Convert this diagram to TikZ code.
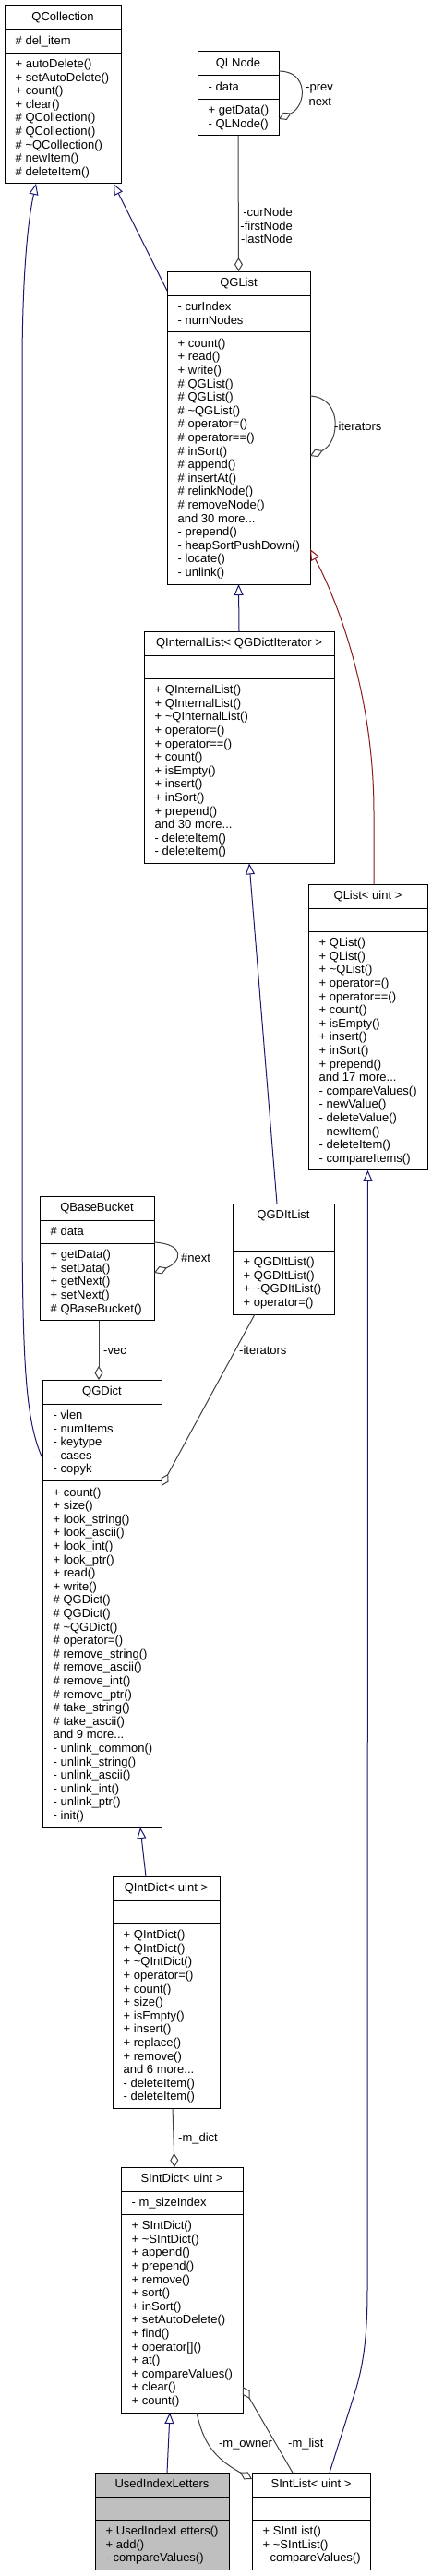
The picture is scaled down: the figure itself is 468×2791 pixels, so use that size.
\documentclass[tikz,border=0pt]{standalone}
\usepackage{fontspec}
\setmainfont{Liberation Sans}
\usetikzlibrary{arrows.meta,calc}
\definecolor{inhblue}{HTML}{191970}
\definecolor{privred}{HTML}{8B1A1A}
\definecolor{usegrey}{HTML}{404040}
\definecolor{curgrey}{HTML}{BFBFBF}
\newcommand\tld{\textasciitilde}
\newcommand\andmore[1]{and #1 more...}
% class box: name, x, top, width, attr rows, method rows, title, attrs, methods
\newcommand\umlclass[9]{%
  \node[cls,minimum width=#4,minimum height={47+14.6*(#5+#6)},anchor=north west] (#1) at (#2,#3) {};
  \draw[line width=1pt] (#1.north west) ++(0,26) -- ++(#4,0);
  \draw[line width=1pt] (#1.north west) ++(0,{36.5+14.6*#5}) -- ++(#4,0);
  \node[txt,anchor=base] (#1t) at ({#2+#4/2},{#3+16.5}) {#7};
  \foreach \entry [count=\idx from 0] in {#8}
    \node[mem] (#1a\idx) at (#2,{#3+42.5+14.6*\idx}) {\entry};
  \foreach \entry [count=\idx from 0] in {#9}
    \node[mem] (#1m\idx) at (#2,{#3+53+14.6*(#5+\idx)}) {\entry};
}

\begin{document}
\begin{tikzpicture}[x=1pt,y=-1pt,
  clsfill/.style={fill=white},
  cls/.style={draw=black,line width=1pt,inner sep=0pt,outer sep=0pt,clsfill},
  txt/.style={font=\fontsize{13}{14.6}\selectfont,inner sep=0pt},
  mem/.style={txt,anchor=base west,xshift=11.5pt},
  lbl/.style={txt,anchor=base west},
  inh/.style={inhblue,line width=1pt,-{Triangle[open,length=12pt,width=10pt]}},
  priv/.style={inh,privred},
  agg/.style={usegrey,line width=1pt,-{Diamond[open,length=15pt,width=9pt]}}]
\path[use as bounding box,fill=white] (0,0) rectangle (468,2791);

\umlclass{qcoll}{5}{6}{126}{1}{9}{QCollection}{\# del\_item}{+ autoDelete(),+ setAutoDelete(),+ count(),+ clear(),\# QCollection(),\# QCollection(),\# \tld QCollection(),\# newItem(),\# deleteItem()}
\umlclass{qlnode}{214}{56}{88}{1}{2}{QLNode}{- data}{+ getData(),- QLNode()}
\umlclass{qglist}{181}{294}{155}{2}{18}{QGList}{- curIndex,- numNodes}{+ count(),+ read(),+ write(),\# QGList(),\# QGList(),\# \tld QGList(),\# operator=(),\# operator==(),\# inSort(),\# append(),\# insertAt(),\# relinkNode(),\# removeNode(),\andmore{30},- prepend(),- heapSortPushDown(),- locate(),- unlink()}
\umlclass{qintl}{156}{684}{206}{1}{13}{QInternalList< QGDictIterator >}{}{+ QInternalList(),+ QInternalList(),+ \tld QInternalList(),+ operator=(),+ operator==(),+ count(),+ isEmpty(),+ insert(),+ inSort(),+ prepend(),\andmore{30},- deleteItem(),- deleteItem()}
\umlclass{qlist}{334}{958}{129}{1}{17}{QList< uint >}{}{+ QList(),+ QList(),+ \tld QList(),+ operator=(),+ operator==(),+ count(),+ isEmpty(),+ insert(),+ inSort(),+ prepend(),\andmore{17},- compareValues(),- newValue(),- deleteValue(),- newItem(),- deleteItem(),- compareItems()}
\umlclass{qbb}{43}{1296}{124}{1}{5}{QBaseBucket}{\# data}{+ getData(),+ setData(),+ getNext(),+ setNext(),\# QBaseBucket()}
\umlclass{qgditl}{252}{1304}{110}{1}{4}{QGDItList}{}{+ QGDItList(),+ QGDItList(),+ \tld QGDItList(),+ operator=()}
\umlclass{qgdict}{46}{1495}{129}{5}{25}{QGDict}{- vlen,- numItems,- keytype,- cases,- copyk}{+ count(),+ size(),+ look\_string(),+ look\_ascii(),+ look\_int(),+ look\_ptr(),+ read(),+ write(),\# QGDict(),\# QGDict(),\# \tld QGDict(),\# operator=(),\# remove\_string(),\# remove\_ascii(),\# remove\_int(),\# remove\_ptr(),\# take\_string(),\# take\_ascii(),\andmore{9},- unlink\_common(),- unlink\_string(),- unlink\_ascii(),- unlink\_int(),- unlink\_ptr(),- init()}
\umlclass{qintd}{122}{2033}{116}{1}{13}{QIntDict< uint >}{}{+ QIntDict(),+ QIntDict(),+ \tld QIntDict(),+ operator=(),+ count(),+ size(),+ isEmpty(),+ insert(),+ replace(),+ remove(),\andmore{6},- deleteItem(),- deleteItem()}
\umlclass{sintd}{131}{2348}{132}{1}{14}{SIntDict< uint >}{- m\_sizeIndex}{+ SIntDict(),+ \tld SIntDict(),+ append(),+ prepend(),+ remove(),+ sort(),+ inSort(),+ setAutoDelete(),+ find(),+ operator[](),+ at(),+ compareValues(),+ clear(),+ count()}
\begin{scope}[clsfill/.style={fill=curgrey}]
\umlclass{used}{103}{2679}{145}{1}{3}{UsedIndexLetters}{}{+ UsedIndexLetters(),+ add(),- compareValues()}
\end{scope}
\umlclass{sintl}{273}{2679}{128}{1}{3}{SIntList< uint >}{}{+ SIntList(),+ \tld SIntList(),- compareValues()}

\draw[inh] ($(qglist.north west)+(0,21)$) -- ($(qcoll.south west)+(118,0)$);
\draw[inh] ($(qgdict.north west)+(0,85)$) .. controls (28,1540) and (24,1480) .. (24,1300) -- (24,400) .. controls (24,300) and (30,240) .. ($(qcoll.south west)+(34,0)$);
\draw[inh] (qintl.north) -- (qglist.south);
\draw[priv] ($(qlist.north west)+(71,0)$) -- ++(0,-78) .. controls +(0,-120) and (370,660) .. ($(qglist.north east)+(0,301)$);
\draw[inh] ($(qgditl.north west)+(48,0)$) -- ($(qintl.south west)+(114,0)$);
\draw[inh] ($(qintd.north west)+(36,0)$) -- ($(qgdict.south west)+(106,0)$);
\draw[inh] ($(used.north west)+(78,0)$) -- ($(sintd.south west)+(53,0)$);
\draw[inh] ($(sintl.north west)+(84,0)$) -- ++(25,-79) .. controls +(10,-30) and (398,2540) .. (398,2480) -- (qlist.south);

\draw[agg] (qlnode.south) -- (qglist.north);
\foreach \lab [count=\i from 0] in {-curNode,-firstNode,-lastNode}
  \node[lbl,anchor=base east] (nodelbl\i) at (317,{234.7+14.6*\i}) {\lab};
\draw[agg] ($(qlnode.north east)+(0,21)$) .. controls +(33,0) and +(30,-14) .. ($(qlnode.north east)+(0,73)$);
\node[lbl] (prevlbl) at (331,99) {-prev};
\node[lbl] (nextlbl) at (330,114.6) {-next};
\draw[agg] ($(qglist.north east)+(0,135)$) .. controls +(36,2) and +(32,-14) .. ($(qglist.north east)+(0,200)$);
\node[lbl] (itlbl) at (362,466.7) {-iterators};
\draw[agg] ($(qbb.north east)+(0,50)$) .. controls +(34,2) and +(30,-12) .. ($(qbb.north east)+(0,83)$);
\node[lbl] (bnextlbl) at (196,1367.7) {\#next};
\draw[agg] ($(qbb.south west)+(64,0)$) -- ($(qgdict.north west)+(61,0)$);
\node[lbl] (veclbl) at (112,1467.7) {-vec};
\draw[agg] ($(qgditl.south west)+(24,0)$) -- ($(qgdict.north east)+(0,115)$);
\node[lbl] (dictitlbl) at (259,1467.7) {-iterators};
\draw[agg] ($(qintd.south west)+(65,0)$) -- ($(sintd.north west)+(58,0)$);
\node[lbl] (mdictlbl) at (193,2320.7) {-m\_dict};
\draw[agg] ($(sintd.south west)+(82,0)$) .. controls +(7,31) and +(-43,-24) .. ($(sintl.north west)+(0,7)$);
\node[lbl,anchor=base] (mownlbl) at (266,2651.7) {-m\_owner};
\draw[agg] ($(sintl.north west)+(44,0)$) -- ($(sintd.north east)+(0,238)$);
\node[lbl] (mlistlbl) at (312,2651.7) {-m\_list};
\end{tikzpicture}
\end{document}
